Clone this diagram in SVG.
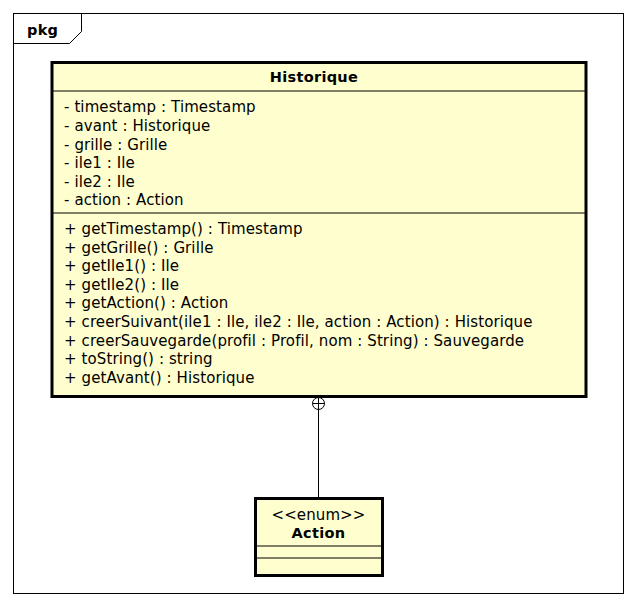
<svg xmlns="http://www.w3.org/2000/svg" width="637" height="608" viewBox="0 0 637 608">
<style>
text{font-family:"DejaVu Sans",sans-serif;font-size:15px;letter-spacing:0.1px;fill:#000}
.b{font-weight:bold;letter-spacing:0.3px;font-size:14.5px}
.box{fill:#FEFECE;stroke:#000;stroke-width:3}
.sep{stroke:#000;stroke-width:1.2}
.ln{stroke:#000;stroke-width:1;fill:none}
</style>
<rect width="637" height="608" fill="#fff"/>
<g id="pkg">
<rect x="13.5" y="13.5" width="610" height="580" fill="none" stroke="#000" stroke-width="1"/>
<path d="M13.5 43.5 H69.5 L81.5 31.5 V13.5" fill="none" stroke="#000" stroke-width="1"/>
<text x="27" y="35" class="b">pkg</text>
</g>
<g id="Historique">
<rect class="box" x="52" y="62.5" width="534" height="334"/>
<text x="314" y="82" class="b" text-anchor="middle">Historique</text>
<line class="sep" x1="52" y1="91" x2="586" y2="91"/>
<text x="64" y="112">- timestamp : Timestamp</text>
<text x="64" y="131">- avant : Historique</text>
<text x="64" y="149.5">- grille : Grille</text>
<text x="64" y="168">- ile1 : Ile</text>
<text x="64" y="186.5">- ile2 : Ile</text>
<text x="64" y="205">- action : Action</text>
<line class="sep" x1="52" y1="213" x2="586" y2="213"/>
<text x="64" y="234">+ getTimestamp() : Timestamp</text>
<text x="64" y="252.5">+ getGrille() : Grille</text>
<text x="64" y="271">+ getIle1() : Ile</text>
<text x="64" y="289.5">+ getIle2() : Ile</text>
<text x="64" y="308">+ getAction() : Action</text>
<text x="64" y="327">+ creerSuivant(ile1 : Ile, ile2 : Ile, action : Action) : Historique</text>
<text x="64" y="345.5">+ creerSauvegarde(profil : Profil, nom : String) : Sauvegarde</text>
<text x="64" y="364">+ toString() : string</text>
<text x="64" y="383">+ getAvant() : Historique</text>
</g>
<g id="Action">
<rect class="box" x="255.5" y="498.5" width="127" height="77"/>
<text x="318.5" y="520" text-anchor="middle">&lt;&lt;enum&gt;&gt;</text>
<text x="318.5" y="538" class="b" text-anchor="middle">Action</text>
<line class="sep" x1="255.5" y1="546" x2="382.5" y2="546"/>
<line class="sep" x1="255.5" y1="558" x2="382.5" y2="558"/>
</g>
<g id="connectors">
<circle class="ln" cx="318.5" cy="403.5" r="6" fill="#fff"/>
<line class="ln" x1="312.5" y1="403.5" x2="324.5" y2="403.5"/>
<line class="ln" x1="318.5" y1="397.5" x2="318.5" y2="498"/>
</g>
</svg>
